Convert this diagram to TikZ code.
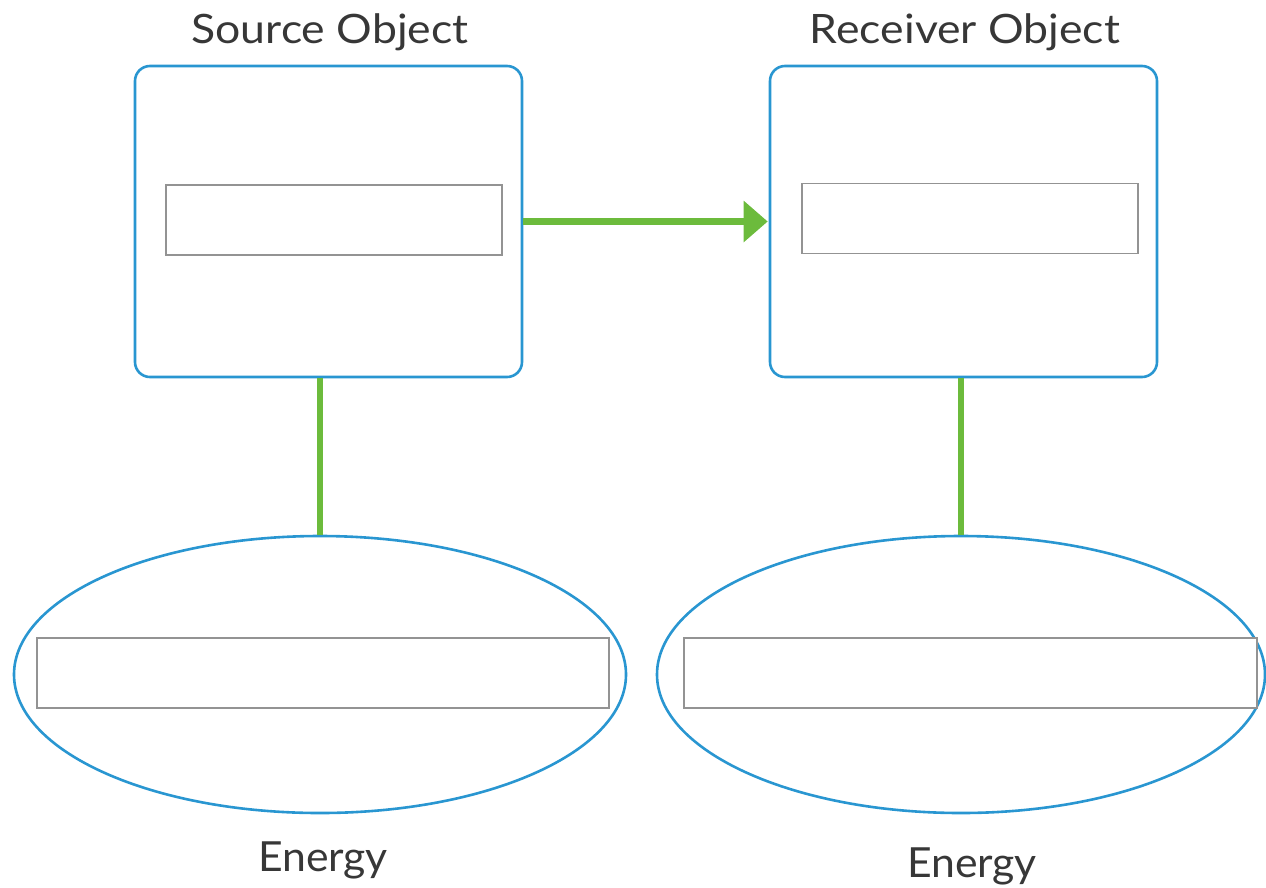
\documentclass[tikz,border=0pt]{standalone}
\usepackage{fontspec}
\setmainfont{Lato}
\newfontfamily\titlefont[FakeStretch=1.1]{Lato}
\newfontfamily\energyfont[FakeStretch=1.03]{Lato}
\usepackage{tikz}
\usetikzlibrary{shapes.geometric,arrows.meta,calc}
\definecolor{objblue}{RGB}{41,150,209}
\definecolor{linkgreen}{RGB}{108,187,60}
\definecolor{txtgray}{RGB}{55,55,55}
\tikzstyle{energy}=[
  x=1pt,y=-1pt,font=\titlefont\fontsize{40.5}{48}\selectfont,text=txtgray
]
\tikzstyle{objbox}=[
  draw=objblue,line width=2.6pt,rounded corners=15pt,minimum width=387pt,minimum height=311pt,inner sep=0pt
]
\tikzstyle{objoval}=[
  draw=objblue,line width=2.6pt,ellipse,inner sep=0pt
]
\tikzstyle{field}=[
  draw=gray!85,line width=1.3pt,fill=white,inner sep=0pt,minimum height=70pt
]
\tikzstyle{link}=[
  draw=linkgreen,line width=6.5pt
]
\tikzstyle{title}=[
  anchor=base,inner sep=0pt
]
\tikzstyle{elabel}=[
  title,font=\energyfont\fontsize{41.5}{48}\selectfont
]

\begin{document}
\begin{tikzpicture}[energy]
    \useasboundingbox (0,0) rectangle (1266,887);
      % objects
      \node (src) at (328.5,221.5) [objbox] {};
      \node (rcv) at (963.5,221.5) [objbox] {};
      \node (srcf) at (334,220) [field,minimum width=336pt] {};
      \node (rcvf) at (970,218.5) [field,minimum width=336pt] {};
      \node [title] at (330,43) {Source Object};
      \node [title] at (965,43) {Receiver Object};
      % energy
      \node (e1) at (320,674.5) [objoval,minimum width=612pt,minimum height=277pt] {};
      \node (e2) at (961,674.5) [objoval,minimum width=608pt,minimum height=277pt] {};
      \node (e1f) at (323,673) [field,minimum width=572pt] {};
      \node (e2f) at (970.5,673) [field,minimum width=573pt] {};
      \node [elabel] at (323,871) {Energy};
      \node [elabel] at (972,877) {Energy};
      % links
      \draw [link,-{Triangle[length=24pt,width=40pt]}] (src.east) -- ($(rcv.west)+(-1,0)$);
      \draw [link] (src.south -| e1.north) -- (e1.north);
      \draw [link] (rcv.south -| e2.north) -- (e2.north);
\end{tikzpicture}
\end{document}
